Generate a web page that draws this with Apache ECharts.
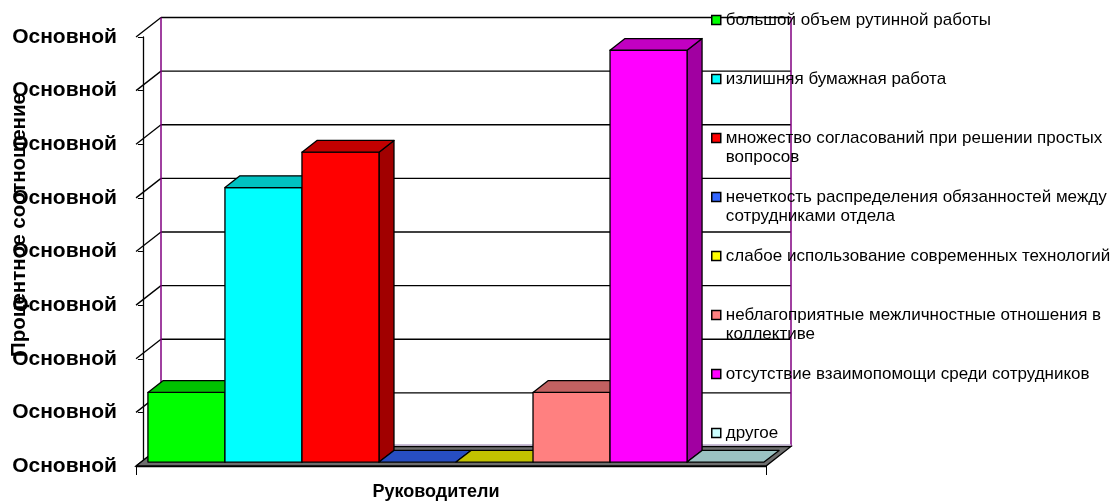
<!DOCTYPE html>
<html><head><meta charset="utf-8">
<script src="https://cdn.jsdelivr.net/npm/echarts@6/dist/echarts.min.js"></script>
<style>html,body{margin:0;padding:0;background:#fff}#c{width:1113px;height:501px}</style>
</head><body><div id="c"></div>
<script>
// ---- data ----
const categories = ['Руководители'];
const seriesNames = [
  'большой объем рутинной работы',
  'излишняя бумажная работа',
  'множество согласований при решении простых вопросов',
  'нечеткость распределения обязанностей между сотрудниками отдела',
  'слабое использование современных технологий',
  'неблагоприятные межличностные отношения в коллективе',
  'отсутствие взаимопомощи среди сотрудников',
  'другое'
];
const legendLines = [
  ['большой объем рутинной работы', ' '],
  ['излишняя бумажная работа', ' '],
  ['множество согласований при решении простых', 'вопросов'],
  ['нечеткость распределения обязанностей между', 'сотрудниками отдела'],
  ['слабое использование современных технологий', ' '],
  ['неблагоприятные межличностные отношения в', 'коллективе'],
  ['отсутствие взаимопомощи среди сотрудников', ' '],
  ['другое', ' ']
];
const values = [6.5, 25.6, 28.9, 0, 0, 6.5, 38.4, 0];
const yMin = 0, yMax = 40, yStep = 5;
const yTickValues = [0, 5, 10, 15, 20, 25, 30, 35, 40];
const yTickLabel = 'Основной';
const yAxisTitle = 'Процентное соотношение';

// ---- style ----
const frontColors = ['#00FF00', '#00FFFF', '#FF0000', '#3366FF', '#FFFF00', '#FF8080', '#FF00FF', '#CCFFFF'];
const FONT = "'Liberation Sans', Arial, sans-serif";
const DX = 25, DY = -19.5;      // wall depth in px
const BF = 0.2, BB = 0.8;       // bar depth span (fraction of wall depth)
function shade(hex, k) {
  const n = parseInt(hex.slice(1), 16);
  const r = Math.round(((n >> 16) & 255) * k), g = Math.round(((n >> 8) & 255) * k), b = Math.round((n & 255) * k);
  return 'rgb(' + r + ',' + g + ',' + b + ')';
}
const LW = 1.3;

function renderWall(params, api) {
  const cs = params.coordSys;
  const v = api.value(1);
  const y = api.coord([0, v])[1];
  const x0 = cs.x, x1 = cs.x + cs.width;
  const ch = [{
    type: 'line', shape: { x1: x0, y1: y, x2: x0 + DX, y2: y + DY },
    style: { stroke: '#000', lineWidth: LW }
  }];
  if (v !== yMin) {
    ch.push({
      type: 'line', shape: { x1: x0 + DX, y1: y + DY, x2: x1 + DX, y2: y + DY },
      style: { stroke: '#000', lineWidth: LW }
    });
  }
  return { type: 'group', children: ch };
}

function renderFloor(params, api) {
  const cs = params.coordSys;
  const y0 = api.coord([0, yMin])[1];
  const yt = api.coord([0, yMax])[1];
  const x0 = cs.x, x1 = cs.x + cs.width;
  return {
    type: 'group', children: [
      { type: 'line', shape: { x1: x0 + DX, y1: yt + DY, x2: x0 + DX, y2: y0 + DY }, style: { stroke: '#800080', lineWidth: 1.5 } },
      { type: 'line', shape: { x1: x1 + DX, y1: yt + DY, x2: x1 + DX, y2: y0 + DY }, style: { stroke: '#800080', lineWidth: 1.5 } },
      { type: 'polygon', shape: { points: [[x0, y0], [x1, y0], [x1 + DX, y0 + DY], [x0 + DX, y0 + DY]] },
        style: { fill: '#6e6e6e', stroke: '#000', lineWidth: LW } },
      { type: 'line', shape: { x1: x0 + DX, y1: y0 + DY - 1.5, x2: x1 + DX, y2: y0 + DY - 1.5 }, style: { stroke: '#b8a8c8', lineWidth: 1.5 } }
    ]
  };
}

function makeBarRenderer(idx) {
  const front = frontColors[idx], top = shade(front, 0.76), side = shade(front, 0.63);
  return function (params, api) {
    const i = api.value(0), v = api.value(1);
    const b0 = api.coord([i, yMin]);
    const b1 = api.coord([i + 1, yMin]);
    const t1 = api.coord([i + 1, v]);
    const fx = DX * BF, fy = DY * BF;
    const ddx = DX * (BB - BF), ddy = DY * (BB - BF);
    const xl = b0[0] + fx, xr = b1[0] + fx, yb = b0[1] + fy, yt = t1[1] + fy;
    const st = (c) => ({ fill: c, stroke: '#000', lineWidth: LW, lineJoin: 'round' });
    const ch = [];
    if (v > 0) {
      ch.push({ type: 'polygon', shape: { points: [[xr, yt], [xr + ddx, yt + ddy], [xr + ddx, yb + ddy], [xr, yb]] }, style: st(side) });
      ch.push({ type: 'rect', shape: { x: xl, y: yt, width: xr - xl, height: yb - yt }, style: st(front) });
    }
    ch.push({ type: 'polygon', shape: { points: [[xl, yt], [xr, yt], [xr + ddx, yt + ddy], [xl + ddx, yt + ddy]] }, style: st(top) });
    return { type: 'group', children: ch };
  };
}

const barSeries = seriesNames.map((name, i) => ({
  name: name,
  type: 'custom',
  coordinateSystem: 'cartesian2d',
  xAxisIndex: 1, yAxisIndex: 0,
  clip: false, z: 3 + i,
  itemStyle: { color: frontColors[i] },
  renderItem: makeBarRenderer(i),
  data: [[i, values[i]]]
}));

const chart = echarts.init(document.getElementById('c'), null, { renderer: 'canvas' });
chart.setOption({
  animation: false,
  backgroundColor: '#fff',
  grid: { left: 136, right: 347, top: 37, bottom: 35, containLabel: false, outerBoundsMode: 'none' },
  legend: {
    orient: 'vertical', left: 711, top: -8.5, padding: 0, itemGap: 2,
    itemWidth: 9, itemHeight: 9, icon: 'rect', selectedMode: false,
    itemStyle: { borderColor: '#000', borderWidth: 1.5 },
    data: seriesNames,
    formatter: (name) => [' '].concat(legendLines[seriesNames.indexOf(name)]).join('\n'),
    textStyle: { fontFamily: FONT, fontSize: 17, color: '#000', lineHeight: 19 }
  },
  xAxis: [{
    type: 'category', data: categories, position: 'bottom',
    axisLine: { show: true, lineStyle: { color: '#000', width: 1.3 } },
    axisTick: { show: true, length: 9, lineStyle: { color: '#000', width: 1 } },
    axisLabel: { fontFamily: FONT, fontSize: 18, fontWeight: 'bold', color: '#000', margin: 17, padding: [0, 30, 0, 0] },
    splitLine: { show: false }
  }, {
    type: 'value', min: -0.09, max: 8.09, show: false
  }],
  yAxis: {
    type: 'value', min: yMin, max: yMax, interval: yStep,
    axisLine: { show: true, lineStyle: { color: '#000', width: 1.3 } },
    axisTick: { show: true, length: 5, lineStyle: { color: '#000', width: 1 } },
    axisLabel: { formatter: () => yTickLabel, fontFamily: FONT, fontSize: 21, fontWeight: 'bold', color: '#000', margin: 19 },
    splitLine: { show: false },
    name: yAxisTitle, nameLocation: 'middle', nameGap: 106, nameRotate: 90, nameMoveOverlap: false,
    nameTextStyle: { fontFamily: FONT, fontSize: 20.5, fontWeight: 'bold', color: '#000', padding: [0, 0, 0, 53] }
  },
  series: [{
    type: 'custom', coordinateSystem: 'cartesian2d', xAxisIndex: 1, yAxisIndex: 0,
    clip: false, z: 1, silent: true, renderItem: renderWall,
    data: yTickValues.map(v => [0, v])
  }, {
    type: 'custom', coordinateSystem: 'cartesian2d', xAxisIndex: 1, yAxisIndex: 0,
    clip: false, z: 2, silent: true, renderItem: renderFloor,
    data: [[0, 0]]
  }].concat(barSeries)
});
</script></body></html>
